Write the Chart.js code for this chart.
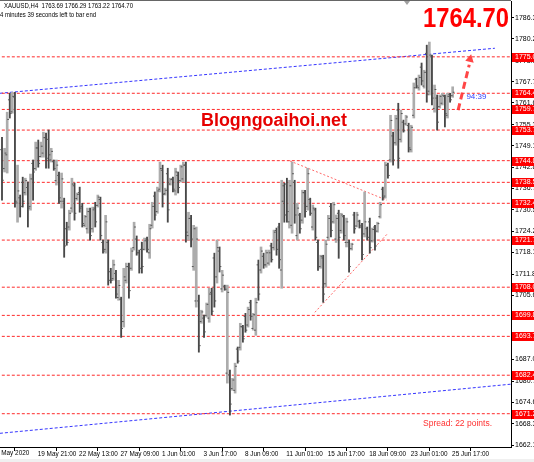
<!DOCTYPE html>
<html>
<head>
<meta charset="utf-8">
<script src="https://cdn.jsdelivr.net/npm/chart.js@4.4.1/dist/chart.umd.min.js"></script>
<style>
  html, body { margin: 0; padding: 0; background: #fff; }
  #chart { display: block; }
</style>
</head>
<body>
<canvas id="chart" width="534" height="462"></canvas>
<script>
// XAUUSD H4 bars (oldest first)
const opens = [
  1748.0, 1742.5, 1746.5, 1762.5, 1759.0, 1763.3, 1732.5, 1734.0, 1738.5, 1735.5,
  1737.0, 1731.5, 1744.0, 1742.5, 1748.5, 1746.0, 1747.0, 1751.5, 1751.0, 1745.0,
  1744.5, 1739.0, 1740.5, 1733.0, 1733.0, 1725.0, 1725.5, 1731.0, 1737.5, 1733.8,
  1735.5, 1731.5, 1726.0, 1725.0, 1730.0, 1725.0, 1731.0, 1731.8, 1733.5, 1721.0,
  1719.0, 1721.0, 1712.5, 1710.5, 1712.0, 1705.0, 1704.5, 1698.0, 1710.0, 1714.0,
  1713.5, 1719.5, 1722.0, 1718.0, 1719.0, 1719.0, 1722.0, 1718.0, 1726.0, 1734.5,
  1730.0, 1736.5, 1742.0, 1735.2, 1741.0, 1738.0, 1739.5, 1736.0, 1740.5, 1739.0,
  1739.5, 1743.5, 1723.0, 1728.0, 1714.0, 1704.0, 1704.0, 1698.0, 1699.0, 1699.8,
  1699.0, 1706.5, 1716.5, 1711.0, 1718.5, 1707.5, 1708.3, 1683.0, 1682.5, 1678.5,
  1678.0, 1690.0, 1690.5, 1696.5, 1699.5, 1697.0, 1703.5, 1696.0, 1695.5, 1714.5,
  1713.0, 1717.0, 1714.5, 1715.0, 1720.0, 1719.5, 1724.5, 1725.5, 1713.0, 1737.5,
  1738.0, 1727.0, 1726.0, 1738.5, 1723.0, 1729.0, 1727.5, 1735.5, 1731.5, 1733.5,
  1725.5, 1730.5, 1721.0, 1714.0, 1716.5, 1709.0, 1722.5, 1731.5, 1727.0, 1722.0,
  1729.5, 1724.5, 1728.5, 1721.0, 1721.0, 1719.2, 1729.0, 1725.8, 1727.2, 1726.0,
  1723.5, 1725.0, 1727.0, 1721.5, 1725.5, 1724.3, 1728.5, 1736.5, 1734.5, 1743.5,
  1745.0, 1752.0, 1750.0, 1759.5, 1751.0, 1756.0, 1755.5, 1755.0, 1748.0, 1758.0,
  1768.5, 1766.0, 1772.0, 1766.5, 1776.0, 1765.0, 1775.0, 1760.0, 1763.0, 1760.5,
  1761.5, 1763.5, 1758.0, 1764.0, 1763.69
];
const highs = [
  1751.6, 1748.4, 1758.9, 1764.4, 1764.7, 1764.7, 1743.5, 1734.8, 1740.0, 1739.7,
  1738.6, 1740.9, 1745.0, 1750.2, 1750.8, 1750.2, 1753.1, 1752.8, 1753.7, 1748.4,
  1745.0, 1745.0, 1741.5, 1741.2, 1733.9, 1726.9, 1730.4, 1739.7, 1738.3, 1735.4,
  1737.1, 1732.4, 1728.9, 1731.0, 1731.0, 1731.3, 1732.7, 1734.8, 1734.2, 1721.7,
  1728.9, 1721.7, 1713.5, 1715.9, 1712.9, 1710.0, 1705.1, 1713.5, 1715.0, 1715.0,
  1719.4, 1726.9, 1722.9, 1718.8, 1721.1, 1722.3, 1722.6, 1726.3, 1732.7, 1735.7,
  1737.1, 1744.4, 1743.5, 1736.8, 1742.6, 1739.7, 1740.0, 1742.6, 1741.5, 1743.5,
  1744.4, 1744.4, 1729.8, 1728.9, 1726.0, 1725.5, 1705.7, 1701.3, 1699.9, 1703.4,
  1707.7, 1707.7, 1717.9, 1721.7, 1719.7, 1712.9, 1708.6, 1708.6, 1683.9, 1681.5,
  1685.9, 1690.6, 1697.5, 1696.9, 1700.4, 1702.2, 1704.2, 1700.4, 1704.8, 1715.9,
  1719.7, 1717.9, 1718.8, 1718.8, 1720.8, 1724.6, 1725.2, 1726.6, 1739.1, 1738.3,
  1739.7, 1739.1, 1744.4, 1739.1, 1732.4, 1729.5, 1736.2, 1736.2, 1742.6, 1733.9,
  1731.9, 1731.0, 1721.7, 1717.3, 1717.3, 1721.7, 1728.9, 1732.4, 1732.7, 1729.0,
  1730.4, 1729.5, 1728.9, 1728.1, 1721.7, 1720.8, 1729.8, 1729.8, 1727.5, 1726.6,
  1735.7, 1725.5, 1728.1, 1725.2, 1726.0, 1726.9, 1732.7, 1737.1, 1744.4, 1744.1,
  1758.0, 1753.1, 1758.0, 1761.5, 1759.5, 1756.6, 1758.0, 1755.7, 1755.1, 1767.4,
  1768.8, 1769.7, 1773.2, 1771.1, 1778.4, 1779.3, 1775.5, 1766.8, 1763.9, 1763.9,
  1764.4, 1763.9, 1764.4, 1764.4, 1766.29
];
const lows = [
  1733.3, 1741.5, 1741.2, 1757.2, 1758.6, 1731.3, 1726.9, 1728.4, 1731.3, 1734.8,
  1725.5, 1730.4, 1733.3, 1742.0, 1742.9, 1745.8, 1745.8, 1742.6, 1742.6, 1744.4,
  1742.0, 1737.7, 1732.4, 1731.0, 1716.7, 1720.2, 1724.6, 1729.8, 1727.5, 1733.3,
  1729.8, 1725.5, 1725.5, 1723.7, 1721.7, 1724.0, 1725.5, 1731.3, 1721.7, 1717.9,
  1717.9, 1708.6, 1709.2, 1710.0, 1704.8, 1704.2, 1693.4, 1696.4, 1709.2, 1704.8,
  1712.9, 1718.8, 1717.3, 1712.1, 1712.1, 1718.8, 1718.2, 1716.4, 1725.2, 1727.5,
  1729.5, 1735.7, 1731.3, 1734.8, 1726.9, 1737.7, 1735.7, 1734.8, 1735.4, 1738.6,
  1738.6, 1721.1, 1721.7, 1719.7, 1712.9, 1702.2, 1689.1, 1697.5, 1693.4, 1699.3,
  1697.8, 1699.9, 1702.2, 1709.2, 1712.4, 1706.6, 1707.1, 1680.1, 1670.8, 1678.0,
  1677.2, 1685.9, 1689.7, 1692.0, 1694.9, 1696.4, 1698.4, 1695.5, 1694.0, 1704.2,
  1712.1, 1713.5, 1713.8, 1714.4, 1715.3, 1718.8, 1717.3, 1713.5, 1707.7, 1726.9,
  1726.9, 1725.2, 1723.7, 1726.6, 1721.7, 1723.7, 1726.6, 1728.4, 1730.4, 1728.9,
  1724.6, 1721.7, 1712.9, 1713.5, 1703.6, 1708.0, 1721.7, 1722.6, 1726.6, 1721.0,
  1716.4, 1723.7, 1721.7, 1719.7, 1712.4, 1718.8, 1723.7, 1725.5, 1725.2, 1715.9,
  1722.6, 1721.7, 1717.9, 1721.1, 1718.8, 1724.0, 1728.1, 1733.3, 1733.9, 1739.7,
  1744.4, 1743.5, 1749.3, 1742.6, 1750.2, 1753.1, 1755.1, 1747.3, 1747.3, 1757.2,
  1765.9, 1765.3, 1766.8, 1765.9, 1761.8, 1763.9, 1761.0, 1758.9, 1753.7, 1760.1,
  1761.0, 1754.6, 1757.2, 1761.8, 1763.22
];
const closes = [
  1739.1, 1747.0, 1756.8, 1758.5, 1763.5, 1733.0, 1736.0, 1731.5, 1733.0, 1739.0,
  1731.0, 1739.5, 1741.5, 1748.5, 1744.0, 1749.0, 1751.5, 1745.5, 1746.5, 1747.5,
  1742.5, 1743.5, 1734.0, 1739.5, 1720.0, 1721.0, 1729.5, 1738.0, 1729.5, 1735.0,
  1731.0, 1726.5, 1728.5, 1730.0, 1723.0, 1730.5, 1727.0, 1734.2, 1723.0, 1718.5,
  1727.0, 1710.0, 1710.0, 1714.5, 1706.0, 1708.5, 1696.0, 1711.0, 1714.0, 1707.0,
  1718.5, 1725.5, 1718.0, 1713.5, 1714.0, 1721.5, 1719.0, 1725.0, 1731.5, 1729.0,
  1736.0, 1742.5, 1735.0, 1736.2, 1730.5, 1739.3, 1736.5, 1741.5, 1737.0, 1743.0,
  1743.5, 1724.0, 1728.0, 1722.0, 1725.0, 1722.0, 1691.0, 1700.8, 1695.0, 1703.0,
  1706.0, 1701.0, 1704.0, 1719.5, 1714.0, 1711.5, 1707.4, 1706.5, 1674.0, 1681.0,
  1685.0, 1686.5, 1696.5, 1693.0, 1695.5, 1701.5, 1699.5, 1700.0, 1703.5, 1706.0,
  1718.5, 1714.5, 1718.0, 1718.0, 1716.0, 1724.0, 1719.0, 1716.0, 1733.0, 1729.0,
  1730.0, 1737.5, 1741.0, 1729.0, 1731.0, 1725.0, 1735.5, 1730.0, 1741.0, 1729.5,
  1731.0, 1722.5, 1714.0, 1717.0, 1706.0, 1720.5, 1728.0, 1724.5, 1732.0, 1728.0,
  1722.5, 1729.0, 1723.0, 1727.0, 1714.0, 1720.5, 1725.0, 1729.0, 1725.5, 1717.5,
  1727.0, 1722.5, 1719.5, 1724.8, 1720.0, 1726.5, 1732.0, 1734.0, 1743.5, 1740.5,
  1756.5, 1745.0, 1757.0, 1745.5, 1758.5, 1753.5, 1757.5, 1748.5, 1754.5, 1766.0,
  1766.5, 1769.0, 1768.0, 1770.5, 1764.0, 1775.5, 1763.0, 1765.5, 1756.0, 1763.5,
  1763.8, 1758.5, 1763.5, 1762.5, 1764.70
];

// price scale labels printed by the terminal
const priceTicks = [1786.3, 1780.2, 1773.9, 1767.7, 1761.6, 1755.3, 1749.1, 1742.8, 1736.7, 1730.5,
  1724.2, 1718.1, 1711.8, 1705.6, 1699.4, 1693.2, 1687.0, 1680.7, 1674.6, 1668.3, 1662.1];

// horizontal levels (red dashed, with price tags)
const levels = [1775.0, 1764.4, 1759.7, 1753.7, 1744.8, 1738.5, 1732.4, 1721.7, 1708.0, 1699.8, 1693.7, 1682.4, 1671.2];

// time axis labels and the bar they sit on
const timeLabels = ['15 May 2020', '19 May 21:00', '22 May 13:00', '27 May 09:00', '1 Jun 01:00', '3 Jun 17:00',
  '8 Jun 09:00', '11 Jun 01:00', '15 Jun 17:00', '18 Jun 09:00', '23 Jun 01:00', '25 Jun 17:00'];
const timeLabelBars = [-4.5, 13, 29, 45, 61, 77, 93, 109, 125, 141, 157, 173];

// drawn objects: [bar, price] end points
const channelTop = [[-0.8, 1764.4], [190.3, 1777.5]];
const channelBottom = [[-0.8, 1665.5], [196.6, 1679.8]];
const wedgeTop = [[111.2, 1744.7], [148.6, 1733.3]];
const wedgeBottom = [[120.8, 1700.7], [149.0, 1723.7]];
const arrowPath = [[176.1, 1759.5], [180.4, 1772.7]];
const arrowHead = [180.7, 1774.3];
const timerPos = [179.3, 1763.3];

// visible window
const xMin = -0.772, xMax = 196.52;
const yMin = 1661.52, yMax = 1791.24;

Chart.defaults.font.family = '"Liberation Sans", Arial, sans-serif';

const upBars = [];
const downBars = [];
const openTicks = [];
const closeTicks = [];
for (let i = 0; i < opens.length; i++) {
    const bar = { x: i, y: [lows[i], highs[i]] };
    if (closes[i] >= opens[i]) {
        upBars.push(bar);
    } else {
        downBars.push(bar);
    }
    openTicks.push({ x: i - 0.35, y: opens[i] });
    closeTicks.push({ x: i + 0.35, y: closes[i] });
}

function lineSet(points, color, width, dash) {
    return {
        type: 'line',
        data: points.map(p => ({ x: p[0], y: p[1] })),
        borderColor: color,
        borderWidth: width,
        borderDash: dash,
        pointRadius: 0,
        fill: false,
        order: 3
    };
}

const levelSets = levels.map(v => lineSet([[-2, v], [200, v]], '#ff2a2a', 1, [3, 2]));

const decorations = {
    id: 'decorations',
    beforeDraw(chart) {
        const { ctx, width, height } = chart;
        ctx.save();
        ctx.fillStyle = '#ffffff';
        ctx.fillRect(0, 0, width, height);
        ctx.fillStyle = '#f0f0f0';
        ctx.fillRect(0, height - 3, width, 3);
        ctx.restore();
    },
    afterDraw(chart) {
        const { ctx, chartArea: area, scales: { x, y } } = chart;
        ctx.save();

        // window frame top
        ctx.strokeStyle = '#666';
        ctx.lineWidth = 1;
        ctx.beginPath();
        ctx.moveTo(0, 0.5);
        ctx.lineTo(area.right, 0.5);
        ctx.stroke();

        // chart shift marker
        ctx.fillStyle = '#a0a0a0';
        ctx.beginPath();
        ctx.moveTo(404, 1);
        ctx.lineTo(410, 1);
        ctx.lineTo(407, 5);
        ctx.closePath();
        ctx.fill();

        // header
        ctx.fillStyle = '#000';
        ctx.font = '7px "Liberation Sans"';
        ctx.textAlign = 'left';
        ctx.textBaseline = 'middle';
        ctx.fillText('XAUUSD,H4  1763.69 1766.29 1763.22 1764.70', 4, 6.5, 129);
        ctx.fillText('4 minutes 39 seconds left to bar end', 0, 15.5, 96);

        // time labels that start left of the window
        ctx.font = '6.4px "Liberation Sans"';
        ctx.textBaseline = 'top';
        timeLabelBars.forEach((b, i) => {
            if (b < xMin) {
                ctx.fillText(timeLabels[i], x.getPixelForValue(b) + 2, area.bottom + 3);
            }
        });

        // big last price
        ctx.fillStyle = '#ff0000';
        ctx.font = 'bold 28px "Liberation Sans"';
        ctx.textAlign = 'right';
        ctx.textBaseline = 'alphabetic';
        ctx.fillText('1764.70', 509, 27, 86);

        // watermark
        ctx.fillStyle = '#e60000';
        ctx.font = 'bold 18px "Liberation Sans"';
        ctx.textAlign = 'left';
        ctx.fillText('Blogngoaihoi.net', 201, 126, 146);

        // spread
        ctx.fillStyle = '#ff3030';
        ctx.font = '8.5px "Liberation Sans"';
        ctx.textBaseline = 'middle';
        ctx.fillText('Spread: 22 points.', 423, 423.5, 69);

        // bar timer
        ctx.fillStyle = '#3344ff';
        ctx.font = '8px "Liberation Sans"';
        ctx.fillText('94:39', x.getPixelForValue(timerPos[0]), y.getPixelForValue(timerPos[1]), 21);

        // price tags on the axis
        ctx.font = '7px "Liberation Sans"';
        levels.forEach(v => {
            const py = Math.round(y.getPixelForValue(v));
            ctx.fillStyle = '#ff0000';
            ctx.fillRect(area.right + 1, py - 4, 30, 9);
            ctx.fillStyle = '#ffffff';
            ctx.fillText(v.toFixed(1), area.right + 4, py + 0.5);
        });

        ctx.restore();
    }
};

new Chart(document.getElementById('chart'), {
    type: 'bar',
    data: {
        datasets: [
            {
                data: upBars,
                backgroundColor: '#acacac',
                barThickness: 2,
                grouped: false,
                order: 1
            },
            {
                data: downBars,
                backgroundColor: '#484848',
                barThickness: 1.2,
                grouped: false,
                order: 1
            },
            {
                type: 'line',
                data: openTicks,
                showLine: false,
                pointStyle: 'line',
                pointRadius: 0.9,
                pointBorderWidth: 1,
                pointBorderColor: '#555',
                order: 0
            },
            {
                type: 'line',
                data: closeTicks,
                showLine: false,
                pointStyle: 'line',
                pointRadius: 0.9,
                pointBorderWidth: 1,
                pointBorderColor: '#555',
                order: 0
            },
            ...levelSets,
            lineSet(channelTop, '#3535ff', 1, [3, 2]),
            lineSet(channelBottom, '#3535ff', 1, [3, 2]),
            lineSet(wedgeTop, 'rgba(255,40,40,0.7)', 1, [2, 2]),
            lineSet(wedgeBottom, 'rgba(255,40,40,0.7)', 1, [2, 2]),
            Object.assign(lineSet(arrowPath, 'rgba(255,50,50,0.9)', 3, [7, 4]), { order: 0 }),
            {
                type: 'line',
                data: [{ x: arrowHead[0], y: arrowHead[1] }],
                showLine: false,
                pointStyle: 'triangle',
                rotation: 13,
                pointRadius: 5,
                pointBackgroundColor: 'rgba(255,50,50,0.9)',
                pointBorderWidth: 0,
                order: 0
            }
        ]
    },
    options: {
        responsive: false,
        animation: false,
        devicePixelRatio: 1,
        layout: { autoPadding: false, padding: { top: 1, left: 0, right: 0, bottom: 0 } },
        plugins: {
            legend: { display: false },
            tooltip: { enabled: false }
        },
        scales: {
            x: {
                type: 'linear',
                min: xMin,
                max: xMax,
                offset: false,
                grid: { drawOnChartArea: false, drawTicks: true, tickLength: 4, color: '#000' },
                border: { display: true, color: '#000' },
                ticks: {
                    align: 'start',
                    labelOffset: 2,
                    padding: -1,
                    maxRotation: 0,
                    autoSkip: false,
                    color: '#000',
                    font: { size: 6.4 },
                    callback: v => timeLabels[timeLabelBars.indexOf(v)]
                },
                afterBuildTicks: s => {
                    s.ticks = timeLabelBars.filter(b => b >= xMin).map(b => ({ value: b }));
                },
                afterFit: s => {
                    s.height = 15;
                    s.paddingLeft = 0;
                    s.paddingRight = 0;
                }
            },
            y: {
                position: 'right',
                min: yMin,
                max: yMax,
                grid: { drawOnChartArea: false, drawTicks: true, tickLength: 3, color: '#000' },
                border: { display: true, color: '#000' },
                ticks: {
                    padding: 1,
                    color: '#000',
                    font: { size: 7 },
                    callback: v => v.toFixed(1)
                },
                afterBuildTicks: s => {
                    s.ticks = priceTicks.map(v => ({ value: v }));
                },
                afterFit: s => {
                    s.width = 23;
                    s.paddingTop = 0;
                    s.paddingBottom = 0;
                }
            }
        }
    },
    plugins: [decorations]
});
</script>
</body>
</html>
